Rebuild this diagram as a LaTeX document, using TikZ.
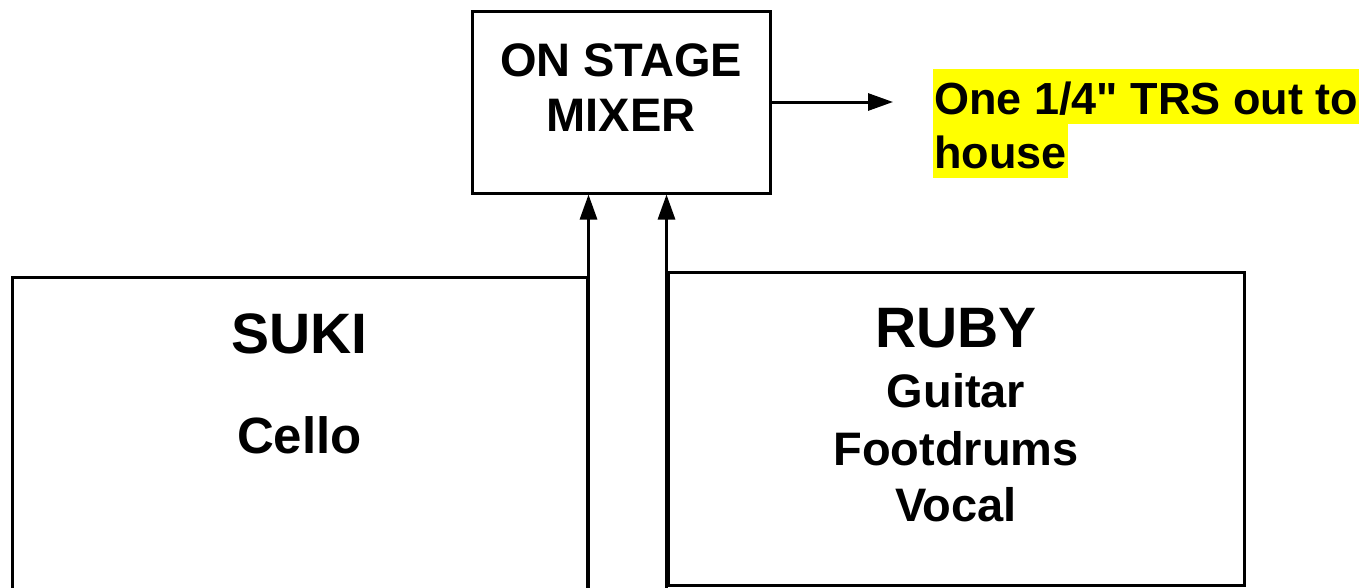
\documentclass[tikz,border=0pt]{standalone}
\usepackage{fontspec}
\setmainfont{Liberation Sans}[Ligatures=TeXOff]
\usetikzlibrary{arrows.meta, positioning}
\definecolor{hilite}{RGB}{255,255,0}

\begin{document}
\begin{tikzpicture}[x=1pt, y=-1pt,
  box/.style={draw=black, line width=3pt, inner sep=0pt},
  who/.style={font=\fontsize{57}{60}\selectfont\bfseries, anchor=base},
  part/.style={font=\fontsize{47}{55}\selectfont\bfseries, anchor=base},
  hl/.style={fill=hilite, font=\fontsize{45}{54}\selectfont\bfseries,
    inner xsep=1pt, inner ysep=0pt, text height=45pt, text depth=9.5pt,
    anchor=base west},
  arr/.style={line width=3pt, -{Triangle[length=25pt, width=17pt]}}]
  \useasboundingbox (0,0) rectangle (1364,587);
  \clip (0,0) rectangle (1364,587);
  % boxes
  \node[box, minimum width=298pt, minimum height=182pt] (mixer) at (621,102) {};
  \node[box, minimum width=575pt, minimum height=363pt] (sukibox) at (299.5,458.5) {};
  \node[box, minimum width=576pt, minimum height=313pt] (rubybox) at (956,428.5) {};
  % mixer text
  \node[part] (onstage) at (621,76) {ON STAGE};
  \node[part] (mixtxt) at (621,131) {MIXER};
  % players
  \node[who] (suki) at (299.5,353) {SUKI};
  \node[part, font=\fontsize{51}{55}\selectfont\bfseries] (cello) at (299.5,453) {Cello};
  \node[who] (ruby) at (956,347) {RUBY};
  \node[part] (guitar) at (956,407) {Guitar};
  \node[part] (drums) at (956,465) {Footdrums};
  \node[part] (vocal) at (956,521) {Vocal};
  % out to house
  \node[hl] (out1) at (933,114) {One 1/4" TRS out to};
  \node[hl] (out2) at (933,168) {house};
  % arrows
  \draw[arr] (sukibox.south east) -- (sukibox.south east |- mixer.south);
  \draw[arr] (rubybox.west |- sukibox.south) -- (rubybox.west |- mixer.south);
  \draw[arr, shorten >=40pt] (mixer.east) -- (mixer.east -| out1.west);
\end{tikzpicture}
\end{document}
